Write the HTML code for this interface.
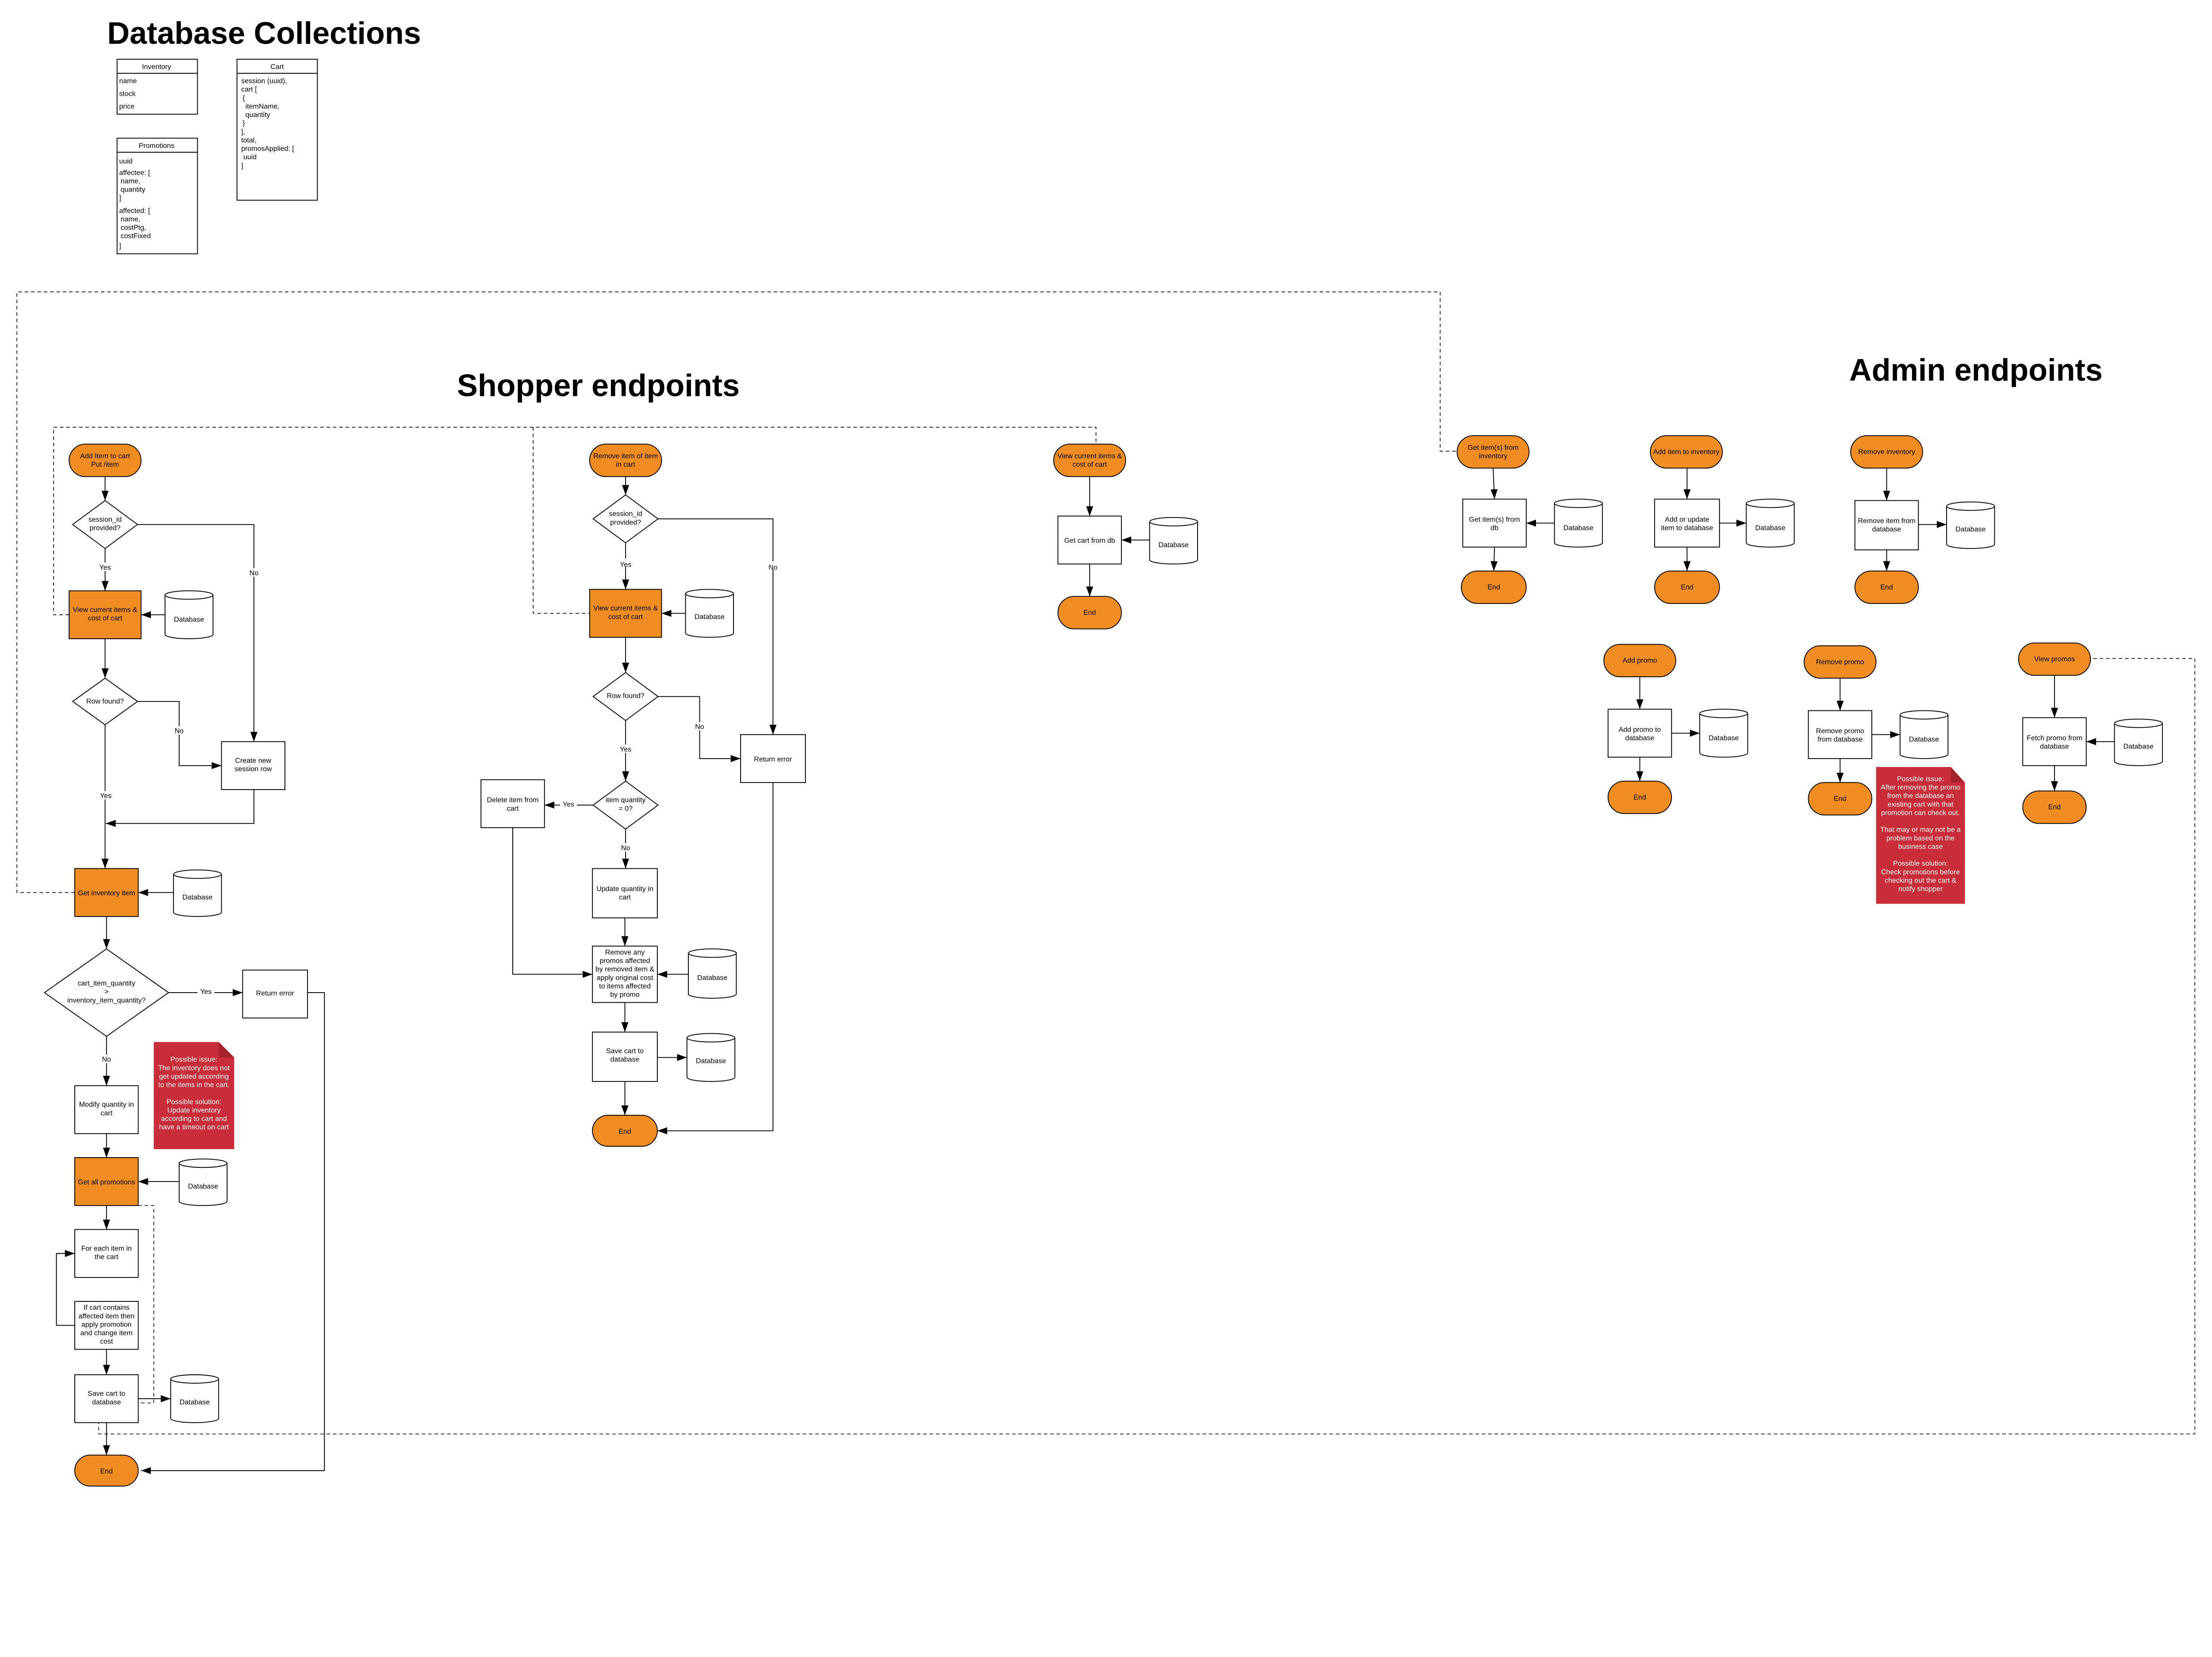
<!DOCTYPE html>
<html><head><meta charset="utf-8"><style>
html,body{margin:0;padding:0;background:#fff;overflow:hidden;}
svg{display:block;}
text{font-family:"Liberation Sans",sans-serif;font-size:5px;fill:#000;text-anchor:middle;}
.t{font-weight:bold;font-size:22px;text-anchor:start;}
.l{text-anchor:start;}
.w{fill:#fff;}
.b{fill:#fff;stroke:#000;stroke-width:0.6;}
.o{fill:#EF8D22;stroke:#000;stroke-width:0.6;}
.ln{fill:none;stroke:#000;stroke-width:0.6;}
.d{fill:none;stroke:#000;stroke-width:0.5;stroke-dasharray:2.5,2;}
</style></head><body>
<svg width="4974" height="3382" style="width:4974px;height:3382px" viewBox="0 0 1560 1061" preserveAspectRatio="none" xmlns="http://www.w3.org/2000/svg">
<defs><marker id="a" markerWidth="8" markerHeight="6" refX="7" refY="3" orient="auto" markerUnits="userSpaceOnUse"><path d="M0,0.5 L7,3 L0,5.5z" fill="#000"/></marker></defs>

<text class="t" x="76" y="31">Database Collections</text>
<rect class="b" x="83" y="42" width="57" height="39"/><line class="ln" x1="83" y1="52" x2="140" y2="52"/>
<text x="111" y="49">Inventory</text>
<text class="l" x="84.5" y="59">name</text><text class="l" x="84.5" y="68">stock</text><text class="l" x="84.5" y="77">price</text>
<rect class="b" x="83" y="98" width="57" height="82"/><line class="ln" x1="83" y1="108" x2="140" y2="108"/>
<text x="111" y="105">Promotions</text>
<text class="l" x="84.5" y="116">uuid</text><text class="l" x="84.5" y="124">affectee: [</text><text class="l" x="85.5" y="130">name,</text><text class="l" x="85.5" y="136">quantity</text><text class="l" x="84.5" y="142">]</text>
<text class="l" x="84.5" y="151">affected: [</text><text class="l" x="85.5" y="157">name,</text><text class="l" x="85.5" y="163">costPtg,</text><text class="l" x="85.5" y="169">costFixed</text><text class="l" x="84.5" y="176">]</text>
<rect class="b" x="168" y="42" width="57" height="100"/><line class="ln" x1="168" y1="52" x2="225" y2="52"/>
<text x="196.5" y="49">Cart</text>
<text class="l" x="171" y="59">session (uuid),</text><text class="l" x="171" y="65">cart [</text><text class="l" x="172" y="71">{</text><text class="l" x="174" y="77">itemName,</text><text class="l" x="174" y="83">quantity</text><text class="l" x="172" y="89">}</text><text class="l" x="171" y="95">],</text><text class="l" x="171" y="101">total,</text><text class="l" x="171" y="107">promosApplied: [</text><text class="l" x="172.5" y="113">uuid</text><text class="l" x="171" y="119">]</text>

<text class="t" x="324" y="281">Shopper endpoints</text>
<text class="t" x="1311" y="270">Admin endpoints</text>

<path class="d" d="M53,633 H12 V207 H1021 V320 H1033"/>
<path class="d" d="M49,436 H38 V303 H777 V315"/>
<path class="d" d="M378,303 V435 H418"/>
<path class="d" d="M98,855 H109 V995 H70 V1017 H1556 V467 H1482"/>

<rect class="o" x="49" y="315" width="51" height="23" rx="11.5"/>
<text x="74.5" y="325">Add Item to cart</text><text x="74.5" y="331">Put /item</text>
<line class="ln" x1="74.5" y1="338" x2="74.5" y2="355" marker-end="url(#a)"/>
<polygon class="b" points="74.5,355 97.5,372 74.5,389 51.5,372"/>
<text x="74.5" y="370">session_id</text><text x="74.5" y="376">provided?</text>
<path class="ln" d="M97.5,372 H180 V526" marker-end="url(#a)"/>
<rect x="176" y="403" width="8" height="6" class="w"/><text x="180" y="408">No</text>
<line class="ln" x1="74.5" y1="389" x2="74.5" y2="419" marker-end="url(#a)"/>
<rect x="69" y="399" width="11" height="6" class="w"/><text x="74.5" y="404">Yes</text>
<rect class="o" x="49" y="419" width="51" height="34"/>
<text x="74.5" y="434">View current items &amp;</text><text x="74.5" y="440">cost of cart</text>
<path class="b" d="M117,422 V450 A17,3 0 0 0 151,450 V422"/><ellipse class="b" cx="134" cy="422" rx="17" ry="3"/><text x="134" y="441">Database</text>
<line class="ln" x1="117" y1="436" x2="100" y2="436" marker-end="url(#a)"/>
<line class="ln" x1="74.5" y1="453" x2="74.5" y2="481" marker-end="url(#a)"/>
<polygon class="b" points="74.5,481 97.5,497.5 74.5,514 51.5,497.5"/>
<text x="74.5" y="499">Row found?</text>
<path class="ln" d="M97.5,497.5 H127 V543 H157" marker-end="url(#a)"/>
<rect x="123" y="515" width="8" height="6" class="w"/><text x="127" y="520">No</text>
<rect class="b" x="157" y="526" width="45" height="34"/>
<text x="179.5" y="541">Create new</text><text x="179.5" y="547">session row</text>
<path class="ln" d="M74.5,514 V616" marker-end="url(#a)"/>
<rect x="69" y="561" width="11" height="6" class="w"/><text x="75" y="566">Yes</text>
<path class="ln" d="M180,560 V584 H75" marker-end="url(#a)"/>
<rect class="o" x="53" y="616" width="45" height="34"/><text x="75.5" y="635">Get inventory item</text>
<path class="b" d="M123,620 V647 A17,3 0 0 0 157,647 V620"/><ellipse class="b" cx="140" cy="620" rx="17" ry="3"/><text x="140" y="638">Database</text>
<line class="ln" x1="123" y1="633" x2="98" y2="633" marker-end="url(#a)"/>
<line class="ln" x1="75.5" y1="650" x2="75.5" y2="673" marker-end="url(#a)"/>
<polygon class="b" points="75.5,673 119.5,704 75.5,735 31.5,704"/>
<text x="75.5" y="699">cart_item_quantity</text><text x="75.5" y="705">&gt;</text><text x="75.5" y="711">inventory_item_quantity?</text>
<line class="ln" x1="119.5" y1="704" x2="172" y2="704" marker-end="url(#a)"/>
<rect x="140" y="700" width="12" height="6" class="w"/><text x="146" y="705">Yes</text>
<rect class="b" x="172" y="688" width="46" height="34"/><text x="195" y="706">Return error</text>
<path class="ln" d="M218,704 H230 V1043 H100" marker-end="url(#a)"/>
<line class="ln" x1="75.5" y1="735" x2="75.5" y2="770" marker-end="url(#a)"/>
<rect x="70" y="748" width="11" height="6" class="w"/><text x="75.5" y="753">No</text>
<rect class="b" x="53" y="770" width="45" height="34"/><text x="75.5" y="785">Modify quantity in</text><text x="75.5" y="791">cart</text>
<path d="M109,739 H155 L166,750 V815 H109z" fill="#C92D39"/><path d="M155,739 L166,750 H155z" fill="#A6222D"/>
<text class="w" x="137.5" y="753">Possible issue:</text><text class="w" x="137.5" y="759">The inventory does not</text><text class="w" x="137.5" y="765">get updated according</text><text class="w" x="137.5" y="771">to the items in the cart.</text>
<text class="w" x="137.5" y="783">Possible solution:</text><text class="w" x="137.5" y="789">Update inventory</text><text class="w" x="137.5" y="795">according to cart and</text><text class="w" x="137.5" y="801">have a timeout on cart</text>
<line class="ln" x1="75.5" y1="804" x2="75.5" y2="821" marker-end="url(#a)"/>
<rect class="o" x="53" y="821" width="45" height="34"/><text x="75.5" y="840">Get all promotions</text>
<path class="b" d="M127,825 V852 A17,3 0 0 0 161,852 V825"/><ellipse class="b" cx="144" cy="825" rx="17" ry="3"/><text x="144" y="843">Database</text>
<line class="ln" x1="127" y1="838" x2="98" y2="838" marker-end="url(#a)"/>
<line class="ln" x1="75.5" y1="855" x2="75.5" y2="872" marker-end="url(#a)"/>
<rect class="b" x="53" y="872" width="45" height="34"/><text x="75.5" y="887">For each item in</text><text x="75.5" y="893">the cart</text>
<rect class="b" x="53" y="923" width="45" height="34"/><text x="75.5" y="929">If cart contains</text><text x="75.5" y="935">affected item then</text><text x="75.5" y="941">apply promotion</text><text x="75.5" y="947">and change item</text><text x="75.5" y="953">cost</text>
<path class="ln" d="M53,940 H40 V889 H53" marker-end="url(#a)"/>
<line class="ln" x1="75.5" y1="957" x2="75.5" y2="975" marker-end="url(#a)"/>
<rect class="b" x="53" y="975" width="45" height="34"/><text x="75.5" y="990">Save cart to</text><text x="75.5" y="996">database</text>
<path class="b" d="M121,978 V1006 A17,3 0 0 0 155,1006 V978"/><ellipse class="b" cx="138" cy="978" rx="17" ry="3"/><text x="138" y="996">Database</text>
<line class="ln" x1="98" y1="992" x2="121" y2="992" marker-end="url(#a)"/>
<line class="ln" x1="75.5" y1="1009" x2="75.5" y2="1032" marker-end="url(#a)"/>
<rect class="o" x="53" y="1032" width="45" height="22" rx="11"/><text x="75.5" y="1045">End</text>

<rect class="o" x="418" y="315" width="51" height="23" rx="11.5"/>
<text x="443.5" y="325">Remove item of item</text><text x="443.5" y="331">in cart</text>
<line class="ln" x1="443.5" y1="338" x2="443.5" y2="351" marker-end="url(#a)"/>
<polygon class="b" points="443.5,351 466.5,368 443.5,385 420.5,368"/>
<text x="443.5" y="366">session_id</text><text x="443.5" y="372">provided?</text>
<path class="ln" d="M466.5,368 H548 V521" marker-end="url(#a)"/>
<rect x="544" y="398" width="8" height="6" class="w"/><text x="548" y="404">No</text>
<line class="ln" x1="443.5" y1="385" x2="443.5" y2="418" marker-end="url(#a)"/>
<rect x="438" y="396" width="11" height="6" class="w"/><text x="443.5" y="402">Yes</text>
<rect class="o" x="418" y="418" width="51" height="34"/>
<text x="443.5" y="433">View current items &amp;</text><text x="443.5" y="439">cost of cart</text>
<path class="b" d="M486,421 V449 A17,3 0 0 0 520,449 V421"/><ellipse class="b" cx="503" cy="421" rx="17" ry="3"/><text x="503" y="439">Database</text>
<line class="ln" x1="486" y1="435" x2="469" y2="435" marker-end="url(#a)"/>
<line class="ln" x1="443.5" y1="452" x2="443.5" y2="477" marker-end="url(#a)"/>
<polygon class="b" points="443.5,477 466.5,494 443.5,511 420.5,494"/>
<text x="443.5" y="495">Row found?</text>
<path class="ln" d="M466.5,494 H496 V538 H525" marker-end="url(#a)"/>
<rect x="492" y="512" width="8" height="6" class="w"/><text x="496" y="517">No</text>
<rect class="b" x="525" y="521" width="46" height="34"/><text x="548" y="540">Return error</text>
<path class="ln" d="M548,555 V802 H466" marker-end="url(#a)"/>
<line class="ln" x1="443.5" y1="511" x2="443.5" y2="554" marker-end="url(#a)"/>
<rect x="438" y="528" width="11" height="6" class="w"/><text x="443.5" y="533">Yes</text>
<polygon class="b" points="443.5,554 466.5,571 443.5,588 420.5,571"/>
<text x="443.5" y="569">item quantity</text><text x="443.5" y="575">= 0?</text>
<line class="ln" x1="420.5" y1="571" x2="386" y2="571" marker-end="url(#a)"/>
<rect x="397" y="567" width="12" height="6" class="w"/><text x="403" y="572">Yes</text>
<rect class="b" x="341" y="553" width="45" height="34"/><text x="363.5" y="569">Delete item from</text><text x="363.5" y="575">cart</text>
<path class="ln" d="M363.5,587 V691 H420" marker-end="url(#a)"/>
<line class="ln" x1="443.5" y1="588" x2="443.5" y2="616" marker-end="url(#a)"/>
<rect x="438" y="598" width="11" height="6" class="w"/><text x="443.5" y="603">No</text>
<rect class="b" x="420" y="616" width="46" height="35"/><text x="443" y="632">Update quantity in</text><text x="443" y="638">cart</text>
<line class="ln" x1="443" y1="651" x2="443" y2="671" marker-end="url(#a)"/>
<rect class="b" x="420" y="671" width="46" height="40"/>
<text x="443" y="677">Remove any</text><text x="443" y="683">promos affected</text><text x="443" y="689">by removed item &amp;</text><text x="443" y="695">apply original cost</text><text x="443" y="701">to items affected</text><text x="443" y="707">by promo</text>
<path class="b" d="M488,676 V705 A17,3 0 0 0 522,705 V676"/><ellipse class="b" cx="505" cy="676" rx="17" ry="3"/><text x="505" y="695">Database</text>
<line class="ln" x1="488" y1="691" x2="466" y2="691" marker-end="url(#a)"/>
<line class="ln" x1="443" y1="711" x2="443" y2="732" marker-end="url(#a)"/>
<rect class="b" x="420" y="732" width="46" height="35"/><text x="443" y="747">Save cart to</text><text x="443" y="753">database</text>
<path class="b" d="M487,736 V764 A17,3 0 0 0 521,764 V736"/><ellipse class="b" cx="504" cy="736" rx="17" ry="3"/><text x="504" y="754">Database</text>
<line class="ln" x1="466" y1="750" x2="487" y2="750" marker-end="url(#a)"/>
<line class="ln" x1="443" y1="767" x2="443" y2="791" marker-end="url(#a)"/>
<rect class="o" x="420" y="791" width="46" height="22" rx="11"/><text x="443" y="804">End</text>

<rect class="o" x="747" y="315" width="51" height="23" rx="11.5"/>
<text x="772.5" y="325">View current items &amp;</text><text x="772.5" y="331">cost of cart</text>
<line class="ln" x1="772.5" y1="338" x2="772.5" y2="366" marker-end="url(#a)"/>
<rect class="b" x="750" y="366" width="45" height="34"/><text x="772.5" y="385">Get cart from db</text>
<path class="b" d="M815,370 V397 A17,3 0 0 0 849,397 V370"/><ellipse class="b" cx="832" cy="370" rx="17" ry="3"/><text x="832" y="388">Database</text>
<line class="ln" x1="815" y1="383" x2="795" y2="383" marker-end="url(#a)"/>
<line class="ln" x1="772.5" y1="400" x2="772.5" y2="423" marker-end="url(#a)"/>
<rect class="o" x="750" y="423" width="45" height="23" rx="11.5"/><text x="772.5" y="436">End</text>

<rect class="o" x="1033" y="309" width="51" height="23" rx="11.5"/>
<text x="1058.5" y="319">Get item(s) from</text><text x="1058.5" y="325">inventory</text>
<line class="ln" x1="1058.5" y1="332" x2="1059.5" y2="354" marker-end="url(#a)"/>
<rect class="b" x="1037" y="354" width="45" height="34"/><text x="1059.5" y="370">Get item(s) from</text><text x="1059.5" y="376">db</text>
<path class="b" d="M1102,357 V385 A17,3 0 0 0 1136,385 V357"/><ellipse class="b" cx="1119" cy="357" rx="17" ry="3"/><text x="1119" y="376">Database</text>
<line class="ln" x1="1102" y1="371" x2="1082" y2="371" marker-end="url(#a)"/>
<line class="ln" x1="1059.5" y1="388" x2="1059" y2="405" marker-end="url(#a)"/>
<rect class="o" x="1036" y="405" width="46" height="23" rx="11.5"/><text x="1059" y="418">End</text>

<rect class="o" x="1170" y="309" width="51" height="23" rx="11.5"/><text x="1195.5" y="322">Add item to inventory</text>
<line class="ln" x1="1196" y1="332" x2="1196" y2="354" marker-end="url(#a)"/>
<rect class="b" x="1173" y="354" width="46" height="34"/><text x="1196" y="370">Add or update</text><text x="1196" y="376">item to database</text>
<path class="b" d="M1238,357 V385 A17,3 0 0 0 1272,385 V357"/><ellipse class="b" cx="1255" cy="357" rx="17" ry="3"/><text x="1255" y="376">Database</text>
<line class="ln" x1="1219" y1="371" x2="1238" y2="371" marker-end="url(#a)"/>
<line class="ln" x1="1196" y1="388" x2="1196" y2="405" marker-end="url(#a)"/>
<rect class="o" x="1173" y="405" width="46" height="23" rx="11.5"/><text x="1196" y="418">End</text>

<rect class="o" x="1312" y="309" width="51" height="23" rx="11.5"/><text x="1337.5" y="322">Remove inventory</text>
<line class="ln" x1="1337.5" y1="332" x2="1337.5" y2="355" marker-end="url(#a)"/>
<rect class="b" x="1315" y="355" width="45" height="35"/><text x="1337.5" y="371">Remove item from</text><text x="1337.5" y="377">database</text>
<path class="b" d="M1380,359 V386 A17,3 0 0 0 1414,386 V359"/><ellipse class="b" cx="1397" cy="359" rx="17" ry="3"/><text x="1397" y="377">Database</text>
<line class="ln" x1="1360" y1="372" x2="1380" y2="372" marker-end="url(#a)"/>
<line class="ln" x1="1337.5" y1="390" x2="1337.5" y2="405" marker-end="url(#a)"/>
<rect class="o" x="1315" y="405" width="45" height="23" rx="11.5"/><text x="1337.5" y="418">End</text>

<rect class="o" x="1137" y="457" width="51" height="23" rx="11.5"/><text x="1162.5" y="470">Add promo</text>
<line class="ln" x1="1162.5" y1="480" x2="1162.5" y2="503" marker-end="url(#a)"/>
<rect class="b" x="1140" y="503" width="45" height="34"/><text x="1162.5" y="519">Add promo to</text><text x="1162.5" y="525">database</text>
<path class="b" d="M1205,506 V534 A17,3 0 0 0 1239,534 V506"/><ellipse class="b" cx="1222" cy="506" rx="17" ry="3"/><text x="1222" y="525">Database</text>
<line class="ln" x1="1185" y1="520" x2="1205" y2="520" marker-end="url(#a)"/>
<line class="ln" x1="1162.5" y1="537" x2="1162.5" y2="554" marker-end="url(#a)"/>
<rect class="o" x="1140" y="554" width="45" height="23" rx="11.5"/><text x="1162.5" y="567">End</text>

<rect class="o" x="1279" y="458" width="51" height="23" rx="11.5"/><text x="1304.5" y="471">Remove promo</text>
<line class="ln" x1="1304.5" y1="481" x2="1304.5" y2="504" marker-end="url(#a)"/>
<rect class="b" x="1282" y="504" width="45" height="34"/><text x="1304.5" y="520">Remove promo</text><text x="1304.5" y="526">from database</text>
<path class="b" d="M1347,507 V535 A17,3 0 0 0 1381,535 V507"/><ellipse class="b" cx="1364" cy="507" rx="17" ry="3"/><text x="1364" y="526">Database</text>
<line class="ln" x1="1327" y1="521" x2="1347" y2="521" marker-end="url(#a)"/>
<line class="ln" x1="1304.5" y1="538" x2="1304.5" y2="555" marker-end="url(#a)"/>
<rect class="o" x="1282" y="555" width="45" height="23" rx="11.5"/><text x="1304.5" y="568">End</text>
<path d="M1330,544 H1383 L1393,555 V641 H1330z" fill="#C92D39"/><path d="M1383,544 L1393,555 H1383z" fill="#A6222D"/>
<text class="w" x="1361.5" y="554">Possible issue:</text><text class="w" x="1361.5" y="560">After removing the promo</text><text class="w" x="1361.5" y="566">from the database an</text><text class="w" x="1361.5" y="572">existing cart with that</text><text class="w" x="1361.5" y="578">promotion can check out.</text>
<text class="w" x="1361.5" y="590">That may or may not be a</text><text class="w" x="1361.5" y="596">problem based on the</text><text class="w" x="1361.5" y="602">business case</text>
<text class="w" x="1361.5" y="614">Possible solution:</text><text class="w" x="1361.5" y="620">Check promotions before</text><text class="w" x="1361.5" y="626">checking out the cart &amp;</text><text class="w" x="1361.5" y="632">notify shopper</text>

<rect class="o" x="1431" y="456" width="51" height="23" rx="11.5"/><text x="1456.5" y="469">View promos</text>
<line class="ln" x1="1456.5" y1="479" x2="1456.5" y2="509" marker-end="url(#a)"/>
<rect class="b" x="1434" y="509" width="45" height="34"/><text x="1456.5" y="525">Fetch promo from</text><text x="1456.5" y="531">database</text>
<path class="b" d="M1499,513 V540 A17,3 0 0 0 1533,540 V513"/><ellipse class="b" cx="1516" cy="513" rx="17" ry="3"/><text x="1516" y="531">Database</text>
<line class="ln" x1="1499" y1="526" x2="1479" y2="526" marker-end="url(#a)"/>
<line class="ln" x1="1456.5" y1="543" x2="1456.5" y2="561" marker-end="url(#a)"/>
<rect class="o" x="1434" y="561" width="45" height="23" rx="11.5"/><text x="1456.5" y="574">End</text>
</svg>
</body></html>
